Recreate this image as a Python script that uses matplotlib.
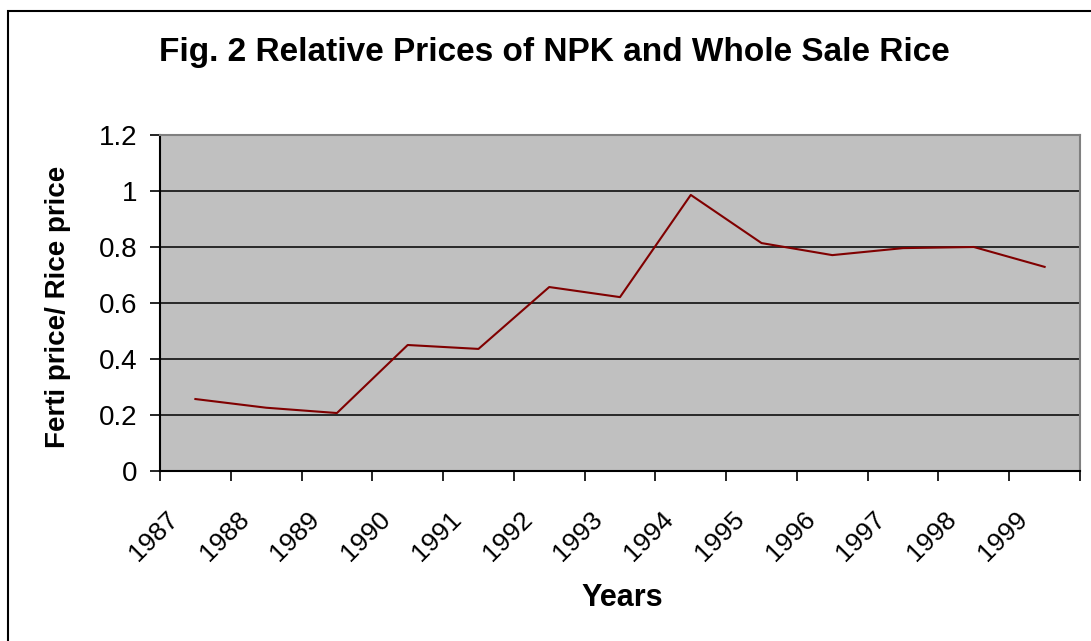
import numpy as np
import matplotlib
matplotlib.use("Agg")
import matplotlib.pyplot as plt
import matplotlib.patches as patches
from matplotlib.transforms import ScaledTranslation

plt.rcParams['font.family'] = ['Liberation Sans', 'DejaVu Sans']

# data
years = ['1987', '1988', '1989', '1990', '1991', '1992', '1993',
         '1994', '1995', '1996', '1997', '1998', '1999']
ratio = [0.257, 0.226, 0.207, 0.450, 0.436, 0.657, 0.621,
         0.986, 0.814, 0.771, 0.796, 0.800, 0.729]
yticks = [0, 0.2, 0.4, 0.6, 0.8, 1.0, 1.2]
ytick_labels = ['0', '0.2', '0.4', '0.6', '0.8', '1', '1.2']

fig = plt.figure(figsize=(10.91, 6.41), dpi=100)
ax = fig.add_axes([160/1091, 1 - 471/641, 920/1091, 336/641])

x = np.arange(len(years))
ax.set_facecolor('#C0C0C0')
ax.plot(x, ratio, color='#800000', linewidth=1.5, zorder=3)

ax.set_xlim(-0.5, len(years) - 0.5)
ax.set_ylim(0, 1.2)
ax.set_yticks(yticks)
ax.set_yticklabels(ytick_labels, fontsize=20)
ax.yaxis.grid(True, color='black', linewidth=1.1)
ax.set_axisbelow(True)

# category boundaries get the tick marks, labels sit at the centres
ax.set_xticks(np.arange(len(years) + 1) - 0.5)
ax.set_xticklabels([])
ax.set_xticks(x, minor=True)
ax.set_xticklabels(years, minor=True, fontsize=19, rotation=45,
                   ha='right', va='center', rotation_mode='anchor')
ax.tick_params(axis='x', which='minor', length=0, pad=32)
ax.tick_params(axis='x', which='major', length=7, width=1.2, direction='out')
ax.tick_params(axis='y', length=7, width=1.2, direction='out', pad=9)
shift = ScaledTranslation(-0.21, 0, fig.dpi_scale_trans)
for lab in ax.get_xticklabels(minor=True):
    lab.set_transform(lab.get_transform() + shift)

for s in ['left', 'bottom']:
    ax.spines[s].set_color('black')
    ax.spines[s].set_linewidth(1.5)
for s in ['top', 'right']:
    ax.spines[s].set_color('#808080')
    ax.spines[s].set_linewidth(1.5)

fig.text(58/1091, 1 - 307/641, 'Ferti price/ Rice price', fontsize=20,
         fontweight='bold', rotation=90, ha='center', va='center')
fig.text(622/1091, 1 - 598/641, 'Years', fontsize=22, fontweight='bold',
         ha='center', va='center')
fig.text(554/1091, 1 - 52/641, 'Fig. 2 Relative Prices of NPK and Whole Sale Rice',
         fontsize=24, fontweight='bold', ha='center', va='center')

# outer chart frame
frame = patches.Rectangle((8/1091, -0.1), 1.2, 0.1 + 1 - 11/641,
                          transform=fig.transFigure, fill=False,
                          edgecolor='black', linewidth=1.5, clip_on=False)
fig.patches.append(frame)

fig.savefig('out.png', dpi=100)
